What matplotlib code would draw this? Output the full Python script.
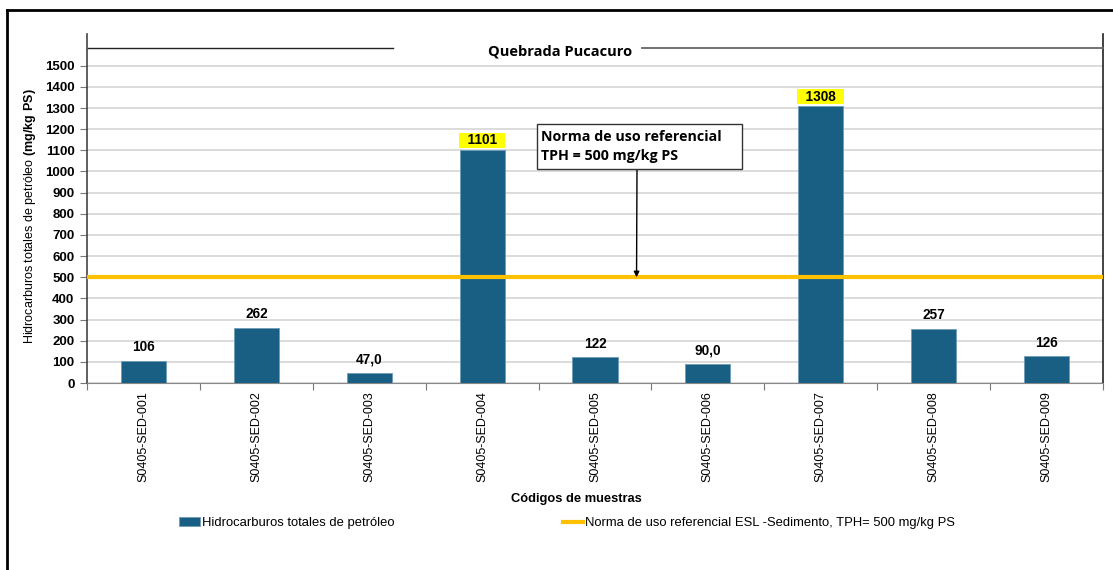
import matplotlib.pyplot as plt
from matplotlib.lines import Line2D
from matplotlib.patches import Rectangle

plt.rcParams['font.family'] = ['Liberation Sans', 'DejaVu Sans']
plt.rcParams['mathtext.fontset'] = 'custom'
plt.rcParams['mathtext.bf'] = 'Liberation Sans:bold'
plt.rcParams['mathtext.rm'] = 'Liberation Sans'

# Data
muestras = ['S0405-SED-001', 'S0405-SED-002', 'S0405-SED-003', 'S0405-SED-004',
            'S0405-SED-005', 'S0405-SED-006', 'S0405-SED-007', 'S0405-SED-008',
            'S0405-SED-009']
tph = [106, 262, 47.0, 1101, 122, 90.0, 1308, 257, 126]
etiquetas = ['106', '262', '47,0', '1101', '122', '90,0', '1308', '257', '126']
norma = 500
yticks = list(range(0, 1600, 100))

bar_color = '#195e83'
line_color = '#ffc000'

W, H = 1113, 570
fig = plt.figure(figsize=(W / 100, H / 100), dpi=100)
ax = fig.add_axes([87 / W, 1 - 383 / H, (1103 - 87) / W, (383 - 34) / H])

x = list(range(len(muestras)))
bars = ax.bar(x, tph, width=0.4, color=bar_color, edgecolor='#6f9bb8', linewidth=0.6,
              zorder=3, label='Hidrocarburos totales de petróleo')
ln = ax.axhline(norma, color=line_color, lw=3, zorder=4,
                label='Norma de uso referencial ESL -Sedimento, TPH= 500 mg/kg PS')

for xi, v, t in zip(x, tph, etiquetas):
    if v > norma:
        ax.annotate('  ' + t + '  ', (xi, v), xytext=(0, 2), textcoords='offset points',
                    ha='center', va='bottom', fontsize=9.8, fontweight='bold',
                    bbox=dict(boxstyle='square,pad=0.05', fc='#ffff00', ec='none'),
                    zorder=5)
    else:
        ax.annotate(t, (xi, v), xytext=(0, 4.5), textcoords='offset points',
                    ha='center', va='bottom', fontsize=9.8, fontweight='bold', zorder=5)

ax.set_xlim(-0.5, len(muestras) - 0.5)
ax.set_ylim(0, 1650)
ax.set_yticks(yticks)
ax.set_yticklabels([str(v) for v in yticks], fontsize=9.5, fontweight='bold')
ax.yaxis.grid(True, color='#d9d9d9', lw=1.3, zorder=0)
ax.set_axisbelow(True)

# category ticks between bars, labels centred on bars
ax.set_xticks([i - 0.5 for i in range(len(muestras) + 1)])
ax.set_xticklabels([])
ax.set_xticks(x, minor=True)
ax.set_xticklabels(muestras, minor=True, rotation=90, fontsize=9)
ax.tick_params(axis='x', which='minor', length=0, pad=6)
ax.tick_params(axis='x', which='major', length=5, color='#777777')
ax.tick_params(axis='y', length=5, pad=4, color='#777777')

ax.spines['top'].set_visible(False)
ax.spines['left'].set_color('#444444')
ax.spines['right'].set_color('#222222')
ax.spines['bottom'].set_color('#888888')
ax.spines['left'].set_linewidth(1.2)
ax.spines['right'].set_linewidth(1.2)

ax.set_ylabel('Hidrocarburos totales de petróleo $\\bf{(mg/kg\\ PS)}$', fontsize=9)
ax.yaxis.set_label_coords(-0.048, (383 - 216) / 349)
ax.set_xlabel('Códigos de muestras', fontsize=9.3, fontweight='bold')
ax.xaxis.set_label_coords((577 - 88) / 1015, -0.315)

# header with title
fig.add_artist(Line2D([88 / W, 393 / W], [1 - 48 / H] * 2, color='#222222', lw=1))
fig.add_artist(Line2D([642 / W, 1103 / W], [1 - 48 / H] * 2, color='#666666', lw=1.3))
fig.text(560 / W, 1 - 51 / H, 'Quebrada Pucacuro', ha='center', va='center',
         fontsize=10.5, fontweight='bold', family=['Open Sans', 'DejaVu Sans'])

# annotation box with vertical arrow down to the norm line
fig.add_artist(Rectangle((537 / W, 1 - 169 / H), (742 - 537) / W, (169 - 124) / H,
                         transform=fig.transFigure, fc='white', ec='#333333', lw=1,
                         zorder=6))
fig.text(541 / W, 1 - 146.5 / H, 'Norma de uso referencial\nTPH = 500 mg/kg PS',
         ha='left', va='center', fontsize=10.3, fontweight='bold', linespacing=1.4,
         family=['Open Sans', 'DejaVu Sans'], zorder=7)
x_arrow = (637 - 88) / 1015 * len(muestras) - 0.5
ax.annotate('', xy=(x_arrow, norma), xytext=(637 / W, 1 - 169 / H),
            textcoords='figure fraction',
            arrowprops=dict(arrowstyle='-|>', color='black', lw=1, mutation_scale=8,
                            shrinkA=0, shrinkB=0),
            zorder=6)

# legend
fig.legend(handles=[bars, ln], loc='center', bbox_to_anchor=(567 / W, 1 - 523 / H),
           ncol=2, frameon=False, fontsize=9.4, columnspacing=12.9,
           handlelength=1.6, handletextpad=0.15)

# outer frame (partially visible)
fig.add_artist(Line2D([7 / W, 7 / W], [0, 1 - 10 / H], color='black', lw=2))
fig.add_artist(Line2D([7 / W, 1.0], [1 - 10 / H] * 2, color='black', lw=2))

plt.savefig('out.png', dpi=100)
